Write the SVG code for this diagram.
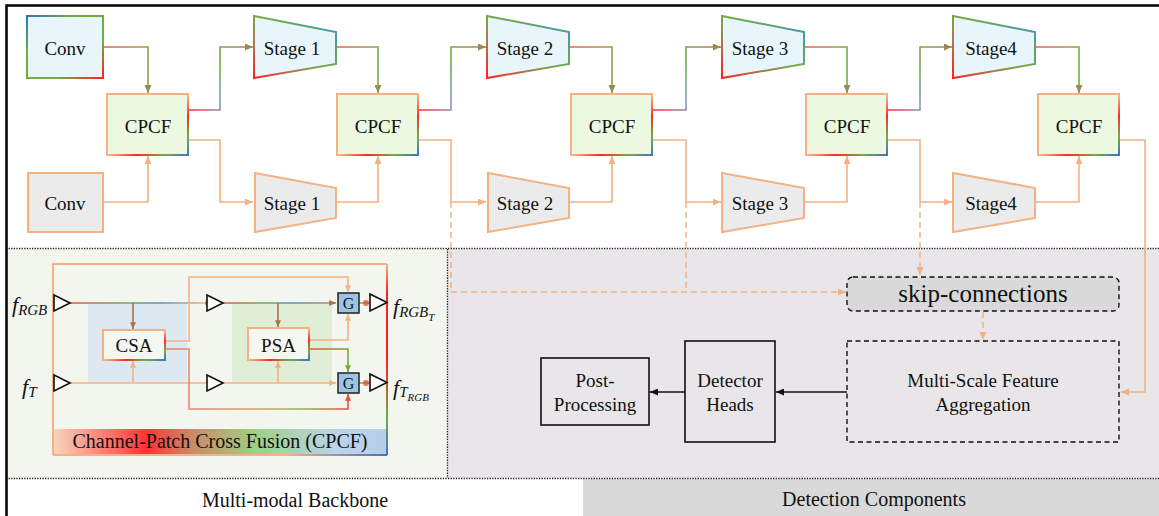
<svg xmlns="http://www.w3.org/2000/svg" width="1159" height="516" viewBox="0 0 1159 516" font-family="'Liberation Serif', 'DejaVu Serif', serif">
<style>
text{font-family:'Liberation Serif','DejaVu Serif',serif;fill:#111}
.lbl{font-size:19px;text-anchor:middle}
.or{fill:none;stroke:#f4b183;stroke-width:1.6}
.dash{fill:none;stroke:#f4b183;stroke-width:1.5;stroke-dasharray:6 4}
.blk{fill:none;stroke:#111;stroke-width:1.6}
.rgbN{fill:#e8f6fc;stroke:url(#gRgbBox);stroke-width:2}
.rgbS{fill:#e8f6fc;stroke:url(#gStage);stroke-width:2}
.tN{fill:#ebebeb;stroke:#f4b183;stroke-width:2}
.cpcf{fill:#ecf8e0;stroke:#f4b183;stroke-width:2}
.cpcfE{fill:none;stroke:url(#gEdge);stroke-width:2}
.dot{fill:none;stroke:#222;stroke-width:1.3;stroke-dasharray:1.3 1.3}
.tri{fill:#fff;stroke:#111;stroke-width:1.6}
.g{fill:#9dc3e6;stroke:#222;stroke-width:1.5}
.sub{font-style:italic}
.topA{fill:none;stroke:url(#gTopA);stroke-width:1.6}
.topB{fill:none;stroke:url(#gTopB);stroke-width:1.6}
</style>
<defs>
  <linearGradient id="gRgbBox" x1="0" y1="0" x2="1" y2="1">
    <stop offset="0" stop-color="#2e75b6"/><stop offset="0.3" stop-color="#70ad47"/>
    <stop offset="0.7" stop-color="#70ad47"/><stop offset="1" stop-color="#ff2020"/>
  </linearGradient>
  <linearGradient id="gStage" x1="0" y1="1" x2="1" y2="0">
    <stop offset="0" stop-color="#ff2020"/><stop offset="0.3" stop-color="#a87a50"/>
    <stop offset="0.55" stop-color="#70ad47"/><stop offset="0.85" stop-color="#4a9aa0"/>
    <stop offset="1" stop-color="#2e75b6"/>
  </linearGradient>
  <linearGradient id="gEdge" x1="0" y1="0" x2="1" y2="1">
    <stop offset="0" stop-color="#f4b183"/><stop offset="0.52" stop-color="#f4b183"/>
    <stop offset="0.68" stop-color="#ff2a2a"/><stop offset="0.85" stop-color="#70ad47"/>
    <stop offset="1" stop-color="#4472c4"/>
  </linearGradient>
  <linearGradient id="gTopA" x1="0" y1="0" x2="1" y2="0">
    <stop offset="0" stop-color="#e8604c"/><stop offset="0.6" stop-color="#b48a50"/>
    <stop offset="1" stop-color="#7ea84a"/>
  </linearGradient>
  <linearGradient id="gTopB" x1="0" y1="1" x2="1" y2="0">
    <stop offset="0" stop-color="#ff2a2a"/><stop offset="0.3" stop-color="#7e9fc4"/>
    <stop offset="0.6" stop-color="#70ad47"/><stop offset="1" stop-color="#b0805a"/>
  </linearGradient>
  <linearGradient id="gFrameR" gradientUnits="userSpaceOnUse" x1="0" y1="264" x2="0" y2="455">
    <stop offset="0" stop-color="#f4b183"/><stop offset="0.15" stop-color="#ff2020"/>
    <stop offset="0.5" stop-color="#ff2020"/><stop offset="0.8" stop-color="#70ad47"/>
    <stop offset="1" stop-color="#4472c4"/>
  </linearGradient>
  <linearGradient id="gFrameB" gradientUnits="userSpaceOnUse" x1="53" y1="0" x2="387" y2="0">
    <stop offset="0" stop-color="#f4b183"/><stop offset="0.7" stop-color="#f4b183"/>
    <stop offset="1" stop-color="#4472c4"/>
  </linearGradient>
  <linearGradient id="gBand" x1="0" y1="0" x2="1" y2="0">
    <stop offset="0" stop-color="#f9d6be"/><stop offset="0.28" stop-color="#ff3434"/>
    <stop offset="0.42" stop-color="#c98c6a"/><stop offset="0.6" stop-color="#9fcf82"/>
    <stop offset="0.85" stop-color="#bcd4ea"/><stop offset="1" stop-color="#b6cfe8"/>
  </linearGradient>
  <linearGradient id="gIn1" gradientUnits="userSpaceOnUse" x1="70" y1="0" x2="207" y2="0">
    <stop offset="0" stop-color="#e8503c"/><stop offset="0.4" stop-color="#70ad47"/>
    <stop offset="0.65" stop-color="#5b8fc7"/><stop offset="1" stop-color="#f4b183"/>
  </linearGradient>
  <linearGradient id="gIn2" gradientUnits="userSpaceOnUse" x1="223" y1="0" x2="336" y2="0">
    <stop offset="0" stop-color="#e8503c"/><stop offset="0.35" stop-color="#70ad47"/>
    <stop offset="0.6" stop-color="#5b8fc7"/><stop offset="1" stop-color="#c08a5a"/>
  </linearGradient>
  <linearGradient id="gCsaLow" x1="0" y1="0" x2="1" y2="0">
    <stop offset="0" stop-color="#e8806a"/><stop offset="0.5" stop-color="#d9a070"/>
    <stop offset="0.75" stop-color="#8fb060"/><stop offset="1" stop-color="#e8503c"/>
  </linearGradient>
  <linearGradient id="gPsaLow" x1="0" y1="0" x2="1" y2="1">
    <stop offset="0" stop-color="#e8503c"/><stop offset="0.6" stop-color="#70ad47"/>
    <stop offset="1" stop-color="#70ad47"/>
  </linearGradient>
  <marker id="mOl" viewBox="0 0 8 7" refX="8" refY="3.5" markerWidth="8" markerHeight="7" markerUnits="userSpaceOnUse" orient="auto">
    <path d="M0,0 L8,3.5 L0,7 z" fill="#9a8a4c"/>
  </marker>
  <marker id="mOr" viewBox="0 0 8 7" refX="8" refY="3.5" markerWidth="8" markerHeight="7" markerUnits="userSpaceOnUse" orient="auto">
    <path d="M0,0 L8,3.5 L0,7 z" fill="#f4b183"/>
  </marker>
  <marker id="mBk" viewBox="0 0 8 7" refX="8" refY="3.5" markerWidth="8" markerHeight="7" markerUnits="userSpaceOnUse" orient="auto">
    <path d="M0,0 L8,3.5 L0,7 z" fill="#111"/>
  </marker>
  <marker id="mBr" viewBox="0 0 8 7" refX="8" refY="3.5" markerWidth="7" markerHeight="6" markerUnits="userSpaceOnUse" orient="auto">
    <path d="M0,0 L8,3.5 L0,7 z" fill="#a8744c"/>
  </marker>
  <marker id="mGr" viewBox="0 0 8 7" refX="8" refY="3.5" markerWidth="7" markerHeight="6" markerUnits="userSpaceOnUse" orient="auto">
    <path d="M0,0 L8,3.5 L0,7 z" fill="#70ad47"/>
  </marker>
  <marker id="mRd" viewBox="0 0 8 7" refX="8" refY="3.5" markerWidth="7" markerHeight="6" markerUnits="userSpaceOnUse" orient="auto">
    <path d="M0,0 L8,3.5 L0,7 z" fill="#e8503c"/>
  </marker>
  <marker id="mOs" viewBox="0 0 8 7" refX="8" refY="3.5" markerWidth="7" markerHeight="6" markerUnits="userSpaceOnUse" orient="auto">
    <path d="M0,0 L8,3.5 L0,7 z" fill="#f4b183"/>
  </marker>
</defs>

<!-- backgrounds -->
<rect x="0" y="0" width="1159" height="516" fill="#fff"/>
<rect x="7" y="249" width="440" height="229" fill="#f2f6ee"/>
<rect x="447" y="249" width="712" height="229" fill="#e8e6e8"/>
<rect x="583" y="479" width="576" height="37" fill="#d9d9d9"/>
<line class="dot" x1="6" y1="248.5" x2="1159" y2="248.5"/>
<line class="dot" x1="6" y1="478.5" x2="1159" y2="478.5"/>
<line class="dot" x1="447.5" y1="249" x2="447.5" y2="478" stroke="#667"/>
<path d="M6.5,516 V5.5 H1159" fill="none" stroke="#000" stroke-width="2.5"/>

<!-- connectors of the backbone and detection head -->
<g id="connectors">
  <path class="topA" d="M103,47 H148 V93" marker-end="url(#mOl)"/>
  <path class="topA" d="M336,47 H378 V93" marker-end="url(#mOl)"/>
  <path class="topA" d="M569,47 H612 V93" marker-end="url(#mOl)"/>
  <path class="topA" d="M804,47 H847 V93" marker-end="url(#mOl)"/>
  <path class="topA" d="M1035,47 H1079 V93" marker-end="url(#mOl)"/>
  <path class="topB" d="M188,110 H220 V47 H253" marker-end="url(#mOl)"/>
  <path class="topB" d="M418,110 H451 V47 H486" marker-end="url(#mOl)"/>
  <path class="topB" d="M652,110 H686 V47 H721" marker-end="url(#mOl)"/>
  <path class="topB" d="M887,110 H920 V47 H952" marker-end="url(#mOl)"/>

  <path class="or" d="M103,202 H148 V156" marker-end="url(#mOr)"/>
  <path class="or" d="M336,202 H378 V156" marker-end="url(#mOr)"/>
  <path class="or" d="M569,202 H612 V156" marker-end="url(#mOr)"/>
  <path class="or" d="M804,202 H847 V156" marker-end="url(#mOr)"/>
  <path class="or" d="M1035,202 H1079 V156" marker-end="url(#mOr)"/>
  <path class="or" d="M188,140 H220 V202 H253" marker-end="url(#mOr)"/>
  <path class="or" d="M418,140 H451 V202 H486" marker-end="url(#mOr)"/>
  <path class="or" d="M652,140 H686 V202 H721" marker-end="url(#mOr)"/>
  <path class="or" d="M887,140 H920 V202 H952" marker-end="url(#mOr)"/>
  <path class="or" d="M1119,140 H1145 V392 H1121" marker-end="url(#mOr)"/>

  <path class="dash" d="M451,202 V292 H846" marker-end="url(#mOr)"/>
  <path class="dash" d="M686,202 V292"/>
  <path class="dash" d="M920,202 V275" marker-end="url(#mOr)"/>
  <path class="dash" d="M983,312 V340" marker-end="url(#mOr)"/>

  <path class="blk" d="M847,392 H776" marker-end="url(#mBk)"/>
  <path class="blk" d="M685,392 H650" marker-end="url(#mBk)"/>
</g>

<!-- backbone nodes -->
<g id="conv-rgb"><rect class="rgbN" x="27" y="16" width="76" height="62"/><text class="lbl" x="65" y="55">Conv</text></g>
<g id="conv-t"><rect class="tN" x="28" y="173" width="75" height="59"/><text class="lbl" x="65" y="210">Conv</text></g>

<g id="stage1-rgb"><polygon class="rgbS" points="254,16 336,32 336,64 254,78"/><text class="lbl" x="292" y="55">Stage 1</text></g>
<g id="stage1-t"><polygon class="tN" points="255,173 336,188 336,218 255,232"/><text class="lbl" x="292" y="210">Stage 1</text></g>
<g id="stage2-rgb"><polygon class="rgbS" points="487,16 569,32 569,64 487,78"/><text class="lbl" x="525" y="55">Stage 2</text></g>
<g id="stage2-t"><polygon class="tN" points="488,173 569,188 569,218 488,232"/><text class="lbl" x="525" y="210">Stage 2</text></g>
<g id="stage3-rgb"><polygon class="rgbS" points="722,16 804,32 804,64 722,78"/><text class="lbl" x="760" y="55">Stage 3</text></g>
<g id="stage3-t"><polygon class="tN" points="722,173 804,188 804,218 722,232"/><text class="lbl" x="760" y="210">Stage 3</text></g>
<g id="stage4-rgb"><polygon class="rgbS" points="953,16 1035,32 1035,64 953,78"/><text class="lbl" x="991" y="55">Stage4</text></g>
<g id="stage4-t"><polygon class="tN" points="953,173 1035,188 1035,218 953,232"/><text class="lbl" x="991" y="210">Stage4</text></g>

<g id="cpcf1"><rect class="cpcf" x="107" y="94" width="81" height="61"/><path class="cpcfE" d="M188,94 V155 H107"/><text class="lbl" x="148" y="133">CPCF</text></g>
<g id="cpcf2"><rect class="cpcf" x="337" y="94" width="81" height="61"/><path class="cpcfE" d="M418,94 V155 H337"/><text class="lbl" x="378" y="133">CPCF</text></g>
<g id="cpcf3"><rect class="cpcf" x="571" y="94" width="81" height="61"/><path class="cpcfE" d="M652,94 V155 H571"/><text class="lbl" x="612" y="133">CPCF</text></g>
<g id="cpcf4"><rect class="cpcf" x="806" y="94" width="81" height="61"/><path class="cpcfE" d="M887,94 V155 H806"/><text class="lbl" x="847" y="133">CPCF</text></g>
<g id="cpcf5"><rect class="cpcf" x="1038" y="94" width="81" height="61"/><path class="cpcfE" d="M1119,94 V155 H1038"/><text class="lbl" x="1079" y="133">CPCF</text></g>

<!-- CPCF block detail -->
<g id="cpcf-detail">
  <rect x="88" y="303" width="99" height="79" fill="#dde8f1"/>
  <rect x="232" y="303" width="100" height="79" fill="#e1eed7"/>
  <rect x="53" y="429" width="334" height="26" fill="url(#gBand)"/>
  <path d="M387,264 H53 V455" fill="none" stroke="#f4b183" stroke-width="2"/>
  <path d="M387,264 V455" fill="none" stroke="url(#gFrameR)" stroke-width="2"/>
  <path d="M53,455 H387" fill="none" stroke="url(#gFrameB)" stroke-width="2"/>
  <text x="220" y="448" font-size="20" text-anchor="middle" fill="#222">Channel-Patch Cross Fusion (CPCF)</text>

  <g id="cpcf-links">
    <path d="M70,303 H207" fill="none" stroke="url(#gIn1)" stroke-width="1.6"/>
    <path d="M223,303 H336" fill="none" stroke="url(#gIn2)" stroke-width="1.6" marker-end="url(#mBr)"/>
    <path class="or" d="M70,383 H207"/>
    <path class="or" d="M223,383 H336" marker-end="url(#mOs)"/>
    <path d="M133,303 V329" fill="none" stroke="#a8744c" stroke-width="1.6" marker-end="url(#mBr)"/>
    <path class="or" d="M133,383 V361" marker-end="url(#mOs)"/>
    <path d="M278,303 V327" fill="none" stroke="#a8744c" stroke-width="1.6" marker-end="url(#mBr)"/>
    <path class="or" d="M278,383 V361" marker-end="url(#mOs)"/>
    <path class="or" d="M165,341 H189 V277 H348 V292" marker-end="url(#mOs)"/>
    <path d="M165,349 H189 V409 H348 V394" fill="none" stroke="url(#gCsaLow)" stroke-width="1.6" marker-end="url(#mRd)"/>
    <path class="or" d="M309,340 H348 V314" marker-end="url(#mOs)"/>
    <path d="M309,349 H348 V372" fill="none" stroke="url(#gPsaLow)" stroke-width="1.6" marker-end="url(#mGr)"/>
    <path d="M359,303 H370 M359,383 H370" fill="none" stroke="#70ad47" stroke-width="1.6"/>
    <circle cx="208" cy="303" r="3" fill="#e8503c" opacity="0.8"/>
    <circle cx="366" cy="303" r="3" fill="#e8503c" opacity="0.8"/>
    <circle cx="366" cy="383" r="3" fill="#e8503c" opacity="0.8"/>
  </g>

  <g id="csa"><rect x="103" y="330" width="62" height="30" fill="#f5f8f1" stroke="#f4b183" stroke-width="2"/><path class="cpcfE" d="M165,330 V360 H103"/><text class="lbl" x="134" y="352">CSA</text></g>
  <g id="psa"><rect x="248" y="328" width="61" height="32" fill="#f5f8f1" stroke="#f4b183" stroke-width="2"/><path class="cpcfE" d="M309,328 V360 H248"/><text class="lbl" x="278.5" y="352">PSA</text></g>
  <g id="gate-rgb"><rect class="g" x="338" y="293" width="21" height="20"/><text x="348.5" y="309" font-size="16" text-anchor="middle">G</text></g>
  <g id="gate-t"><rect class="g" x="338" y="373" width="21" height="20"/><text x="348.5" y="389" font-size="16" text-anchor="middle">G</text></g>

  <polygon class="tri" points="54,295 70,303 54,311"/>
  <polygon class="tri" points="54,375 70,383 54,391"/>
  <polygon class="tri" points="207,295 223,303 207,311"/>
  <polygon class="tri" points="207,375 223,383 207,391"/>
  <polygon class="tri" points="370,294 387,302.5 370,311"/>
  <polygon class="tri" points="370,374 387,382.5 370,391"/>

  <text x="12" y="312" font-size="22" class="sub">f<tspan font-size="15" dy="3">RGB</tspan></text>
  <text x="22" y="394" font-size="22" class="sub">f<tspan font-size="15" dy="3">T</tspan></text>
  <text x="393" y="314" font-size="22" class="sub">f<tspan font-size="15" dy="3">RGB</tspan><tspan font-size="11" dy="4">T</tspan></text>
  <text x="393" y="395" font-size="22" class="sub">f<tspan font-size="15" dy="2">T</tspan><tspan font-size="11" dy="4">RGB</tspan></text>
</g>

<!-- detection components -->
<g id="skip-connections"><rect x="847" y="277" width="272" height="34" rx="6" fill="#d9d9d9" stroke="#111" stroke-width="1.4" stroke-dasharray="5 3.5"/><text x="983" y="302" font-size="25" text-anchor="middle">skip-connections</text></g>
<g id="msfa"><rect x="847" y="341" width="272" height="101" fill="none" stroke="#111" stroke-width="1.4" stroke-dasharray="5 3.5"/><text class="lbl" x="983" y="387">Multi-Scale Feature</text><text class="lbl" x="983" y="411">Aggregation</text></g>
<g id="detector-heads"><rect x="685" y="341" width="90" height="101" fill="none" stroke="#111" stroke-width="1.6"/><text class="lbl" x="730" y="387">Detector</text><text class="lbl" x="730" y="411">Heads</text></g>
<g id="post-processing"><rect x="541" y="358" width="108" height="67" fill="none" stroke="#111" stroke-width="1.6"/><text class="lbl" x="595" y="387">Post-</text><text class="lbl" x="595" y="411">Processing</text></g>

<!-- section captions -->
<text x="295" y="507" font-size="20" text-anchor="middle">Multi-modal Backbone</text>
<text x="874" y="506" font-size="20" text-anchor="middle">Detection Components</text>
</svg>
